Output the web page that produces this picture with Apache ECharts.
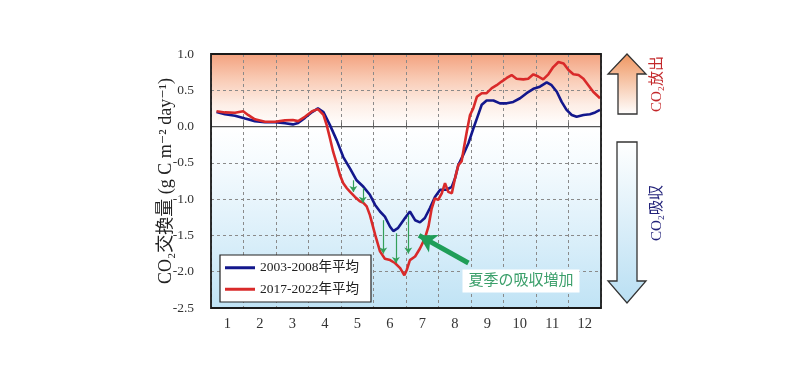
<!DOCTYPE html>
<html><head><meta charset="utf-8">
<script src="https://cdn.jsdelivr.net/npm/echarts@6/dist/echarts.min.js"></script>
<style>html,body{margin:0;padding:0;background:#fff}#c{width:800px;height:368px}</style>
</head><body><div id="c"></div>
<script>
// ---- data ----
const months = ['1','2','3','4','5','6','7','8','9','10','11','12'];
const seriesNames = ['2003-2008年平均', '2017-2022年平均'];
// [month position (0-12), CO2 flux]
const blue2003 = [[0.17,0.20],[0.43,0.17],[0.74,0.15],[1.05,0.11],[1.35,0.075],[1.66,0.06],[1.97,0.06],[2.28,0.045],[2.52,0.03],[2.68,0.05],[2.89,0.12],[3.11,0.20],[3.29,0.25],[3.46,0.20],[3.66,0.02],[3.87,-0.19],[4.07,-0.42],[4.28,-0.58],[4.48,-0.74],[4.69,-0.83],[4.89,-0.94],[5.05,-1.08],[5.20,-1.17],[5.35,-1.24],[5.51,-1.38],[5.61,-1.44],[5.75,-1.40],[5.97,-1.26],[6.12,-1.17],[6.28,-1.29],[6.43,-1.32],[6.58,-1.26],[6.74,-1.12],[6.89,-0.97],[7.05,-0.87],[7.25,-0.87],[7.41,-0.83],[7.51,-0.71],[7.61,-0.53],[7.76,-0.39],[7.92,-0.23],[8.07,-0.03],[8.18,0.11],[8.33,0.30],[8.48,0.36],[8.69,0.36],[8.89,0.32],[9.10,0.32],[9.30,0.34],[9.51,0.39],[9.71,0.46],[9.92,0.52],[10.12,0.55],[10.33,0.61],[10.48,0.57],[10.64,0.48],[10.79,0.34],[10.94,0.23],[11.10,0.16],[11.25,0.135],[11.46,0.16],[11.66,0.17],[11.82,0.195],[11.97,0.23]];
const red2017 = [[0.17,0.21],[0.43,0.195],[0.74,0.19],[0.99,0.21],[1.14,0.16],[1.35,0.10],[1.66,0.066],[1.97,0.066],[2.28,0.085],[2.52,0.09],[2.68,0.075],[2.89,0.135],[3.11,0.21],[3.29,0.24],[3.46,0.16],[3.56,0.02],[3.66,-0.16],[3.76,-0.35],[3.87,-0.51],[3.97,-0.67],[4.07,-0.78],[4.18,-0.85],[4.28,-0.90],[4.43,-0.97],[4.58,-1.03],[4.69,-1.05],[4.79,-1.10],[4.89,-1.22],[5.05,-1.49],[5.20,-1.72],[5.35,-1.82],[5.51,-1.84],[5.66,-1.88],[5.82,-1.95],[5.95,-2.05],[6.02,-1.98],[6.12,-1.84],[6.28,-1.79],[6.43,-1.68],[6.58,-1.54],[6.69,-1.38],[6.79,-1.13],[6.89,-0.99],[6.99,-1.01],[7.10,-0.92],[7.20,-0.78],[7.30,-0.90],[7.41,-0.92],[7.51,-0.71],[7.61,-0.53],[7.71,-0.48],[7.78,-0.30],[7.87,-0.07],[7.97,0.16],[8.07,0.25],[8.18,0.41],[8.33,0.46],[8.48,0.46],[8.64,0.53],[8.79,0.57],[8.94,0.62],[9.10,0.67],[9.25,0.71],[9.40,0.66],[9.61,0.65],[9.76,0.66],[9.92,0.72],[10.07,0.69],[10.22,0.65],[10.38,0.72],[10.53,0.82],[10.69,0.89],[10.85,0.87],[11.00,0.78],[11.15,0.72],[11.31,0.71],[11.46,0.66],[11.61,0.57],[11.76,0.48],[11.97,0.39]];
const zeroLine = [[0,0],[12,0]];
// small green arrows: x, from, to
const diffArrowX = [4.38, 4.67, 5.30, 5.69, 6.07];
const diffArrowFrom = [-0.74, -0.85, -1.29, -1.47, -1.22];
const diffArrowTo = [-0.90, -1.05, -1.75, -1.88, -1.75];
// big annotation arrow: [tail], [head]
const noteArrowTail = [7.92, -1.88];
const noteArrowHead = [6.40, -1.50];
const noteText = '夏季の吸収増加';
const yMin = -2.5, yMax = 1.0, yStep = 0.5;

// ---- chart ----
const SERIF = "'Liberation Serif','DejaVu Serif','Noto Sans CJK JP',serif";
const chart = echarts.init(document.getElementById('c'));
const G = echarts.graphic;
const bg = new G.LinearGradient(0,0,0,1,[
  {offset:0, color:'#f3a27f'},
  {offset:0.10, color:'#f9cbb5'},
  {offset:0.2, color:'#fdeee6'},
  {offset:0.2857, color:'#ffffff'},
  {offset:0.42, color:'#f6fbfe'},
  {offset:0.7, color:'#ddf0fa'},
  {offset:1, color:'#c0e3f5'}
]);
const diffLines = diffArrowX.map((x,i)=>[{coord:[x,diffArrowFrom[i]]},{coord:[x,diffArrowTo[i]]}]);

const option = {
  animation:false,
  grid:{left:211,right:199,top:54,bottom:60,show:true,backgroundColor:bg,borderWidth:0},
  legend:{
    data:seriesNames, orient:'vertical', left:220, top:255,
    icon:'rect', itemWidth:30, itemHeight:3, itemGap:8, padding:[6,12,6,5],
    backgroundColor:'#fff', borderColor:'#222', borderWidth:1.2,
    textStyle:{fontFamily:SERIF, fontSize:13.5, color:'#222'}
  },
  xAxis:[
    {type:'category', data:months, boundaryGap:true,
     axisLine:{show:false}, axisTick:{show:true,inside:true,length:4,lineStyle:{color:'#666'}},
     axisLabel:{fontFamily:SERIF,fontSize:14.5,color:'#333',margin:9},
     splitLine:{show:true,lineStyle:{type:[3,3],color:'#8a8a8a',width:1}}},
    {type:'value', min:0, max:12, show:false}
  ],
  yAxis:{type:'value', min:yMin, max:yMax, interval:yStep,
    axisLine:{show:false}, axisTick:{show:false},
    axisLabel:{fontFamily:SERIF,fontSize:13.5,color:'#333',margin:17,formatter:v=>v.toFixed(1)},
    splitLine:{show:true,lineStyle:{type:[3,3],color:'#8a8a8a',width:1}}},
  series:[
    {type:'line', xAxisIndex:1, data:zeroLine, symbol:'none', silent:true, z:1,
     lineStyle:{color:'#555',width:1.2}},
    {name:seriesNames[0], type:'line', xAxisIndex:1, data:blue2003, symbol:'none', z:3,
     lineStyle:{color:'#13178c',width:2.6}, itemStyle:{color:'#13178c'}},
    {name:seriesNames[1], type:'line', xAxisIndex:1, data:red2017, symbol:'none', z:4,
     lineStyle:{color:'#d92a2a',width:2.6}, itemStyle:{color:'#d92a2a'},
     markLine:{silent:true, symbol:['none','arrow'], symbolSize:6, label:{show:false},
       lineStyle:{color:'#33a05a',width:1.2,type:'solid'}, data:diffLines}},
    {type:'line', xAxisIndex:1, data:[], z:5,
     markLine:{silent:true, symbol:['none','arrow'], symbolSize:[15,17], label:{show:false},
       lineStyle:{color:'#1f9e58',width:5,type:'solid'},
       data:[[{coord:noteArrowTail},{coord:noteArrowHead}]]}}
  ],
  graphic:[
    {type:'rect', z:100, silent:true, shape:{x:211,y:54,width:390,height:254},
     style:{fill:'none',stroke:'#1a1a1a',lineWidth:1.8}},
    {type:'text', z:100, x:166, y:181, rotation:Math.PI/2,
     style:{text:'CO₂交換量 (g C m⁻² day⁻¹)', font:'18px '+SERIF, fill:'#222', align:'center', verticalAlign:'middle'}},
    {type:'text', z:100, x:521, y:281,
     style:{text:noteText, font:'15px '+SERIF, fill:'#3b9f6a', align:'center', verticalAlign:'middle',
       backgroundColor:'#fff', padding:[4,6]}},
    {type:'polygon', z:100, shape:{points:[[627,54],[646,74],[637,74],[637,114],[618,114],[618,74],[608,74]]},
     style:{fill:new G.LinearGradient(0,0,0,1,[{offset:0,color:'#ef955f'},{offset:1,color:'#ffffff'}]),stroke:'#333',lineWidth:1.3}},
    {type:'polygon', z:100, shape:{points:[[617,142],[637,142],[637,281],[646,281],[627,303],[608,281],[617,281]]},
     style:{fill:new G.LinearGradient(0,0,0,1,[{offset:0,color:'#ffffff'},{offset:1,color:'#b9dff3'}]),stroke:'#333',lineWidth:1.3}},
    {type:'text', z:100, x:657, y:84, rotation:Math.PI/2,
     style:{text:'CO₂放出', font:'15px '+SERIF, fill:'#c3272a', align:'center', verticalAlign:'middle'}},
    {type:'text', z:100, x:657, y:213, rotation:Math.PI/2,
     style:{text:'CO₂吸収', font:'15px '+SERIF, fill:'#23237a', align:'center', verticalAlign:'middle'}}
  ]
};
chart.setOption(option);
</script>
</body></html>
